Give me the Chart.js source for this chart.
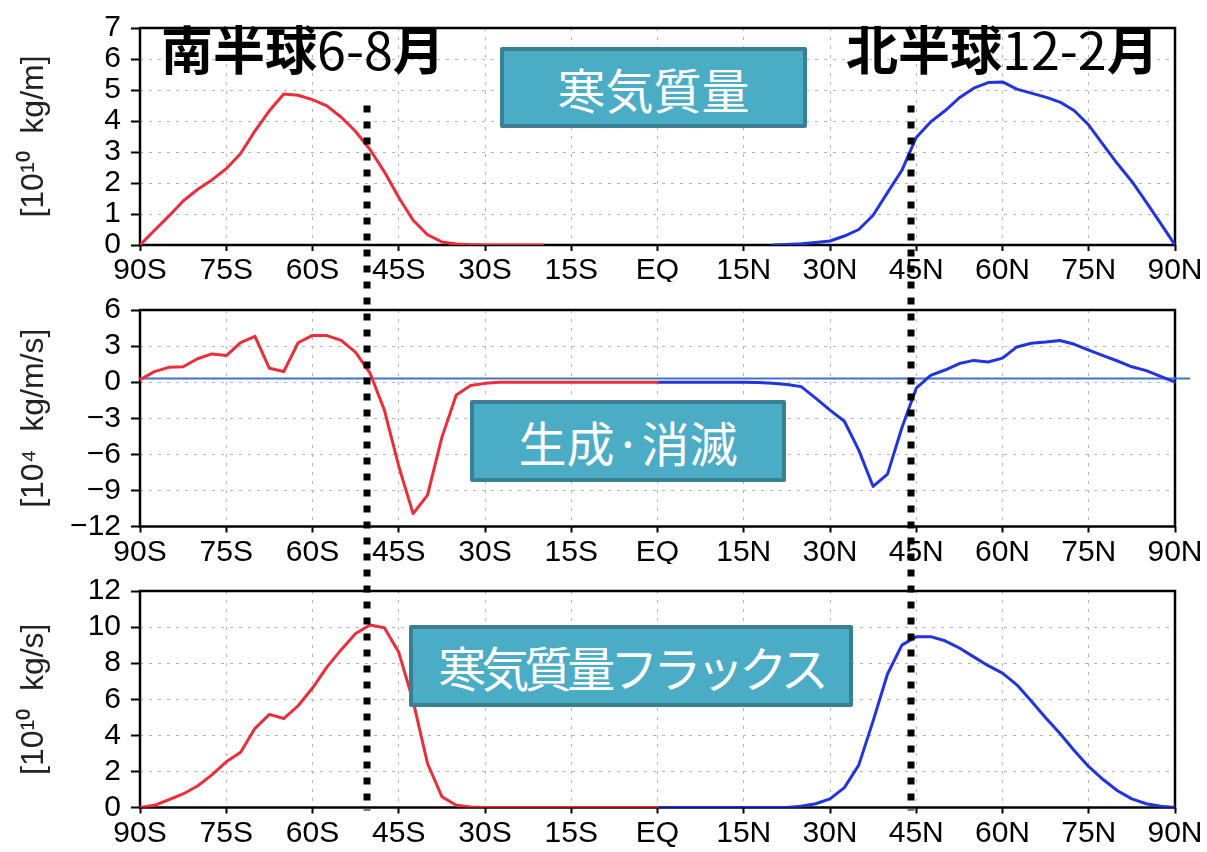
<!DOCTYPE html>
<html>
<head>
<meta charset="utf-8">
<script src="https://cdn.jsdelivr.net/npm/chart.js@4.4.1/dist/chart.umd.min.js"></script>
<style>
  html, body { margin: 0; padding: 0; background: #fff; }
  #wrap { position: relative; width: 1207px; height: 852px; overflow: hidden; background: #fff; }
  #wrap canvas { position: absolute; left: 0; }
  .season { position: absolute; font-family: "Noto Sans CJK JP", sans-serif; font-size: 52px;
            font-weight: 700; line-height: 1; color: #000; white-space: nowrap; }
  .season span { font-weight: 400; }
  .tag { position: absolute; box-sizing: border-box; background: #4bacc6; border: 4px solid #3a8094;
         border-radius: 2px; color: #fff; font-family: "Noto Sans CJK JP", sans-serif; font-size: 48px;
         display: flex; align-items: center; justify-content: center; white-space: nowrap; }
</style>
</head>
<body>
<div id="wrap">
  <canvas id="massChart" width="1207" height="282" style="top:0px"></canvas>
  <canvas id="genChart" width="1207" height="282" style="top:282px"></canvas>
  <canvas id="fluxChart" width="1207" height="289" style="top:563px"></canvas>

  <div class="season" style="left:161px; top:22px">南半球<span>6-8</span>月</div>
  <div class="season" style="left:846px; top:22px">北半球<span>12-2</span>月</div>

  <div class="tag" style="left:500px; top:47px; width:307px; height:81px;">寒気質量</div>
  <div class="tag" style="left:470px; top:400px; width:316px; height:82px;">生成·消滅</div>
  <div class="tag" style="left:409px; top:625px; width:444px; height:82px; letter-spacing:-5px;">寒気質量フラックス</div>
</div>

<script>
// ---- latitude axis ----
const latTicks  = [-90, -75, -60, -45, -30, -15, 0, 15, 30, 45, 60, 75, 90];
const latLabels = ['90S', '75S', '60S', '45S', '30S', '15S', 'EQ', '15N', '30N', '45N', '60N', '75N', '90N'];

// latitudes of the sampled profiles
const latSouthMass = [-90, -87.5, -85, -82.5, -80, -77.5, -75, -72.5, -70, -67.5, -65, -62.5, -60, -57.5,
                      -55, -52.5, -50, -47.5, -45, -42.5, -40, -37.5, -35, -32.5, -30, -27.5, -25, -22.5, -20];
const latNorthMass = [20, 22.5, 25, 27.5, 30, 32.5, 35, 37.5, 40, 42.5, 45, 47.5, 50, 52.5, 55, 57.5,
                      60, 62.5, 65, 67.5, 70, 72.5, 75, 77.5, 80, 82.5, 85, 87.5, 90];
const latSouth = [-90, -87.5, -85, -82.5, -80, -77.5, -75, -72.5, -70, -67.5, -65, -62.5, -60, -57.5, -55,
                  -52.5, -50, -47.5, -45, -42.5, -40, -37.5, -35, -32.5, -30, -27.5, -25, -22.5, -20,
                  -17.5, -15, -12.5, -10, -7.5, -5, -2.5, 0];
const latNorth = [0, 2.5, 5, 7.5, 10, 12.5, 15, 17.5, 20, 22.5, 25, 27.5, 30, 32.5, 35, 37.5, 40, 42.5,
                  45, 47.5, 50, 52.5, 55, 57.5, 60, 62.5, 65, 67.5, 70, 72.5, 75, 77.5, 80, 82.5, 85, 87.5, 90];

// cold-air mass [10^10 kg/m]
const massSH = [0, 0.47, 0.93, 1.42, 1.79, 2.10, 2.46, 2.95, 3.68, 4.33, 4.87, 4.83, 4.69, 4.49,
                4.12, 3.66, 3.08, 2.36, 1.53, 0.80, 0.33, 0.10, 0.03, 0.01, 0, 0, 0, 0, 0];
const massNH = [0, 0.02, 0.04, 0.08, 0.13, 0.29, 0.50, 0.96, 1.69, 2.41, 3.47, 3.97, 4.33, 4.75, 5.06,
                5.24, 5.26, 5.03, 4.90, 4.77, 4.61, 4.33, 3.87, 3.24, 2.62, 2.05, 1.38, 0.70, 0];

// generation / dissipation [10^4 kg/m/s]
const genSH = [0.2, 0.88, 1.23, 1.28, 1.95, 2.35, 2.21, 3.28, 3.81, 1.15, 0.88, 3.28, 3.89, 3.87, 3.47,
               2.48, 0.75, -2.32, -6.99, -10.93, -9.39, -4.59, -1.07, -0.27, -0.10,
               0, 0, 0, 0, 0, 0, 0, 0, 0, 0, 0, 0];
const genNH = [0, 0, 0, 0, 0, 0, 0, -0.02, -0.10, -0.19, -0.37, -1.33, -2.32, -3.25, -5.65, -8.67, -7.65,
               -3.79, -0.50, 0.56, 1.01, 1.55, 1.81, 1.68, 2.00, 2.93, 3.23, 3.33, 3.47, 3.15, 2.67,
               2.21, 1.76, 1.28, 0.96, 0.48, 0];
const genRefLat = [-90, 92.5];
const genRefVal = [0.3, 0.3];

// cold-air mass flux [10^10 kg/s]
const fluxSH = [0, 0.12, 0.43, 0.75, 1.19, 1.81, 2.53, 3.06, 4.39, 5.16, 4.93, 5.64, 6.62, 7.78, 8.75,
                9.64, 10.12, 9.96, 8.60, 5.90, 2.44, 0.60, 0.12, 0.03,
                0, 0, 0, 0, 0, 0, 0, 0, 0, 0, 0, 0, 0];
const fluxNH = [0, 0, 0, 0, 0, 0, 0, 0, 0, 0, 0.07, 0.21, 0.48, 1.10, 2.35, 4.80, 7.40, 9.00, 9.47, 9.47,
                9.24, 8.84, 8.35, 7.86, 7.45, 6.80, 5.90, 4.98, 4.10, 3.15, 2.26, 1.55, 0.93, 0.48,
                0.21, 0.07, 0];

// y ticks
const massTicks = [0, 1, 2, 3, 4, 5, 6, 7];
const genTicks  = [-12, -9, -6, -3, 0, 3, 6];
const fluxTicks = [0, 2, 4, 6, 8, 10, 12];

// boundary latitudes (dotted lines) and the mass value where they begin
const boundaryLats = [-50.5, 44];
const boundaryStart = 4.5;

const RED = '#ec2d3a';
const BLUE = '#2233e0';
const FONT = "'Liberation Sans', Arial, sans-serif";

const pts = (lats, vals) => lats.map((x, i) => ({ x, y: vals[i] }));

// black frame around the plotting area
const framePlugin = {
  id: 'frame',
  beforeDatasetsDraw(chart) {
    const { ctx, chartArea: a } = chart;
    ctx.save();
    ctx.strokeStyle = '#000';
    ctx.lineWidth = 2.5;
    ctx.strokeRect(a.left, a.top, a.right - a.left, a.bottom - a.top);
    ctx.restore();
  }
};

// thick dotted boundary lines running through the stacked panels
let dashAnchor = null;
const DASH = [7, 9];
const boundaryPlugin = {
  id: 'boundary',
  afterDraw(chart, args, opts) {
    const { ctx, chartArea, scales } = chart;
    const y1 = opts.fromValue != null ? scales.y.getPixelForValue(opts.fromValue) : 0;
    const y2 = opts.toAxis ? chartArea.bottom + 3 : chart.height;
    const gTop = opts.canvasTop + y1;
    if (dashAnchor === null) dashAnchor = gTop;
    const period = DASH[0] + DASH[1];
    ctx.save();
    ctx.strokeStyle = '#000';
    ctx.lineWidth = 7;
    ctx.setLineDash(DASH);
    ctx.lineDashOffset = (((gTop - dashAnchor) % period) + period) % period;
    boundaryLats.forEach(lat => {
      const x = Math.round(scales.x.getPixelForValue(lat));
      ctx.beginPath();
      ctx.moveTo(x, y1);
      ctx.lineTo(x, y2);
      ctx.stroke();
    });
    ctx.restore();
  }
};

function makePanel(id, cfg) {
  const tickSet = cfg.ticks;
  return new Chart(document.getElementById(id), {
    type: 'line',
    data: { datasets: cfg.datasets },
    options: {
      responsive: false,
      animation: false,
      devicePixelRatio: 1,
      events: [],
      layout: { padding: { top: 20, right: 32, left: 0, bottom: 0 } },
      elements: { point: { radius: 0 }, line: { tension: 0, borderJoinStyle: 'round', borderCapStyle: 'round' } },
      plugins: {
        legend: { display: false },
        tooltip: { enabled: false },
        boundary: { fromValue: cfg.boundaryFrom, toAxis: cfg.boundaryToAxis, canvasTop: cfg.canvasTop }
      },
      scales: {
        x: {
          type: 'linear', position: 'bottom', min: -90, max: 90,
          afterBuildTicks: s => { s.ticks = latTicks.map(v => ({ value: v })); },
          afterFit: s => { s.height = cfg.xHeight; },
          ticks: {
            autoSkip: false, maxRotation: 0, padding: 2, color: '#000',
            font: { family: FONT, size: 30 },
            callback: (v, i) => latLabels[i]
          },
          grid: { color: '#b4b4b4', lineWidth: 1, tickLength: 6, tickColor: '#000', tickWidth: 2 },
          border: { display: false, dash: [3, 6] }
        },
        y: {
          type: 'linear', min: tickSet[0], max: tickSet[tickSet.length - 1],
          afterBuildTicks: s => { s.ticks = tickSet.map(v => ({ value: v })); },
          afterFit: s => { s.width = 140; },
          ticks: {
            autoSkip: false, padding: 10, color: '#000',
            font: { family: FONT, size: 30 },
            callback: v => (v < 0 ? '\u2212' + Math.abs(v) : String(v))
          },
          grid: { color: '#b4b4b4', lineWidth: 1, tickLength: 9, tickColor: '#000', tickWidth: 2 },
          border: { display: false, dash: [3, 6] },
          title: {
            display: true, text: cfg.unit, color: '#222',
            font: { family: FONT, size: 32 }, padding: { top: 15, bottom: 0 }
          }
        }
      }
    },
    plugins: [framePlugin, boundaryPlugin]
  });
}

const lineDs = (data, color) => ({ data, borderColor: color, borderWidth: 3, fill: false });

makePanel('massChart', {
  canvasTop: 0, xHeight: 37, ticks: massTicks, unit: '[10¹⁰  kg/m]',
  boundaryFrom: boundaryStart, boundaryToAxis: false,
  datasets: [lineDs(pts(latSouthMass, massSH), RED), lineDs(pts(latNorthMass, massNH), BLUE)]
});

makePanel('genChart', {
  canvasTop: 282, xHeight: 37.5, ticks: genTicks, unit: '[10⁴  kg/m/s]',
  boundaryFrom: null, boundaryToAxis: false,
  datasets: [
    lineDs(pts(latSouth, genSH), RED),
    lineDs(pts(latNorth, genNH), BLUE),
    { data: pts(genRefLat, genRefVal), borderColor: '#4472c4', borderWidth: 2, fill: false, clip: false }
  ]
});

makePanel('fluxChart', {
  canvasTop: 563, xHeight: 44.5, ticks: fluxTicks, unit: '[10¹⁰  kg/s]',
  boundaryFrom: null, boundaryToAxis: true,
  datasets: [lineDs(pts(latSouth, fluxSH), RED), lineDs(pts(latNorth, fluxNH), BLUE)]
});
</script>
</body>
</html>
